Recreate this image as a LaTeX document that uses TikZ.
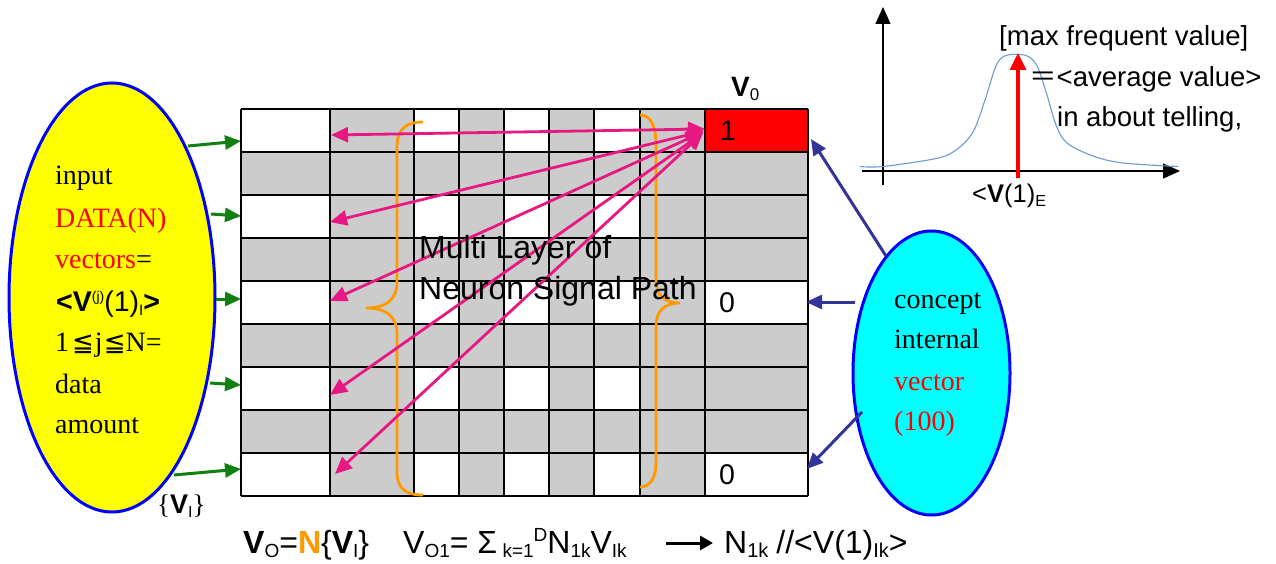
\documentclass[tikz,border=0pt]{standalone}
\usepackage{fontspec}
\setmainfont{Liberation Serif}
\newfontfamily\arial{Liberation Sans}
\newfontfamily\dejavu{DejaVu Sans}
\newfontfamily\cjk{Noto Sans CJK JP}
\usetikzlibrary{shapes.geometric,arrows.meta}
\definecolor{ggreen}{RGB}{16,128,16}
\definecolor{ppink}{RGB}{232,24,130}
\definecolor{navyb}{RGB}{51,51,153}
\definecolor{orng}{RGB}{255,153,0}
\definecolor{cgray}{RGB}{204,204,204}
\definecolor{cblue}{RGB}{108,155,210}
\definecolor{yfill}{RGB}{255,255,0}
\definecolor{cfill}{RGB}{0,255,255}
\definecolor{rfill}{RGB}{255,0,0}
\definecolor{bline}{RGB}{0,0,255}
\newcommand\setfs[1]{\fontsize{#1}{#1}\selectfont}
\newcommand\mylo[2]{\raisebox{-4pt}{\setfs{#1}#2}}
\newcommand\myhi[2]{\raisebox{12pt}{\setfs{#1}#2}}
\tikzset{
  garrow/.style={draw=ggreen, line width=3pt, -{Triangle[length=16pt,width=14pt]}},
  parrow/.style={draw=ppink, line width=2.8pt, {Triangle[length=17pt,width=15pt]}-{Triangle[length=17pt,width=15pt]}},
  narrow/.style={draw=navyb, line width=3pt, -{Triangle[length=16pt,width=14pt]}},
  axis/.style={draw=black, line width=1.4pt, -{Triangle[length=17pt,width=15pt]}},
  brace/.style={draw=orng, line width=2.8pt},
  txt/.style={inner sep=0pt, anchor=base west},
  serif/.style={txt, font=\setfs{28}},
  sans/.style={txt, font=\arial\setfs{28.5}},
  bubble/.style={ellipse, draw=bline, line width=3pt, inner sep=0pt},
}
\begin{document}
\begin{tikzpicture}[x=1pt,y=-1pt]
\fill[white] (0,0) rectangle (1276,564);
\useasboundingbox (0,0) rectangle (1276,564);

% grid
\fill[cgray] (241,109) rectangle (808,496);
\foreach \r in {0,2,4,6,8}
  \foreach \xa/\xb in {241/330,414/459,504/549,594/640}
    \fill[white] (\xa,{109+43*\r}) rectangle (\xb,{152+43*\r});
\fill[white] (705,281) rectangle (808,324);
\fill[white] (705,453) rectangle (808,496);
\fill[rfill] (705,109) rectangle (808,152);
\foreach \x in {241,330,414,459,504,549,594,640,705,808}
  \draw[line width=1.3pt] (\x,109) -- (\x,496);
\foreach \r in {0,...,9}
  \draw[line width=1.3pt] (241,{109+43*\r}) -- (808,{109+43*\r});

\node[font=\arial\setfs{28.5}, inner sep=0pt] (one) at (728,131) {1};
\node[font=\arial\setfs{28.5}, inner sep=0pt] (zeroa) at (727,303) {0};
\node[font=\arial\setfs{28.5}, inner sep=0pt] (zerob) at (727,475) {0};
\node[txt, font=\arial\setfs{28}] (vo) at (731,97) {\textbf{V}\mylo{17}{0}};

% braces
\draw[brace] (423,122) .. controls (405,122) and (397,130) .. (397,147) -- (397,282)
  .. controls (397,298) and (388,308) .. (366,308)
  .. controls (388,308) and (397,318) .. (397,334) -- (397,472)
  .. controls (397,488) and (405,495) .. (423,495);
\draw[brace] (640,115) .. controls (650,115) and (656,125) .. (656,145) -- (656,280)
  .. controls (656,295) and (664,303) .. (680,303)
  .. controls (664,303) and (656,311) .. (656,327) -- (656,463)
  .. controls (656,478) and (650,487) .. (640,487);

% pink arrows
\coordinate (c1) at (705,129);
\coordinate (c2) at (704,131);
\coordinate (c3) at (703,132);
\coordinate (c4) at (703,133);
\coordinate (c5) at (703,133);
\coordinate (l1) at (331,135);
\coordinate (l2) at (330,222);
\coordinate (l3) at (330,301);
\coordinate (l4) at (330,395);
\coordinate (l5) at (335,474);
\foreach \i in {1,...,5} \draw[parrow] (c\i) -- (l\i);

\node[txt, font=\arial\setfs{32}] (ml1) at (419,258) {Multi Layer of};
\node[txt, font=\arial\setfs{32}] (ml2) at (419,299) {Neuron Signal Path};

% left ellipse
\node[bubble, fill=yfill, minimum width=206pt, minimum height=429pt] (inp) at (112,297.5) {};
\node[serif] (a1) at (55,185) {input};
\node[serif, text=rfill] (a2) at (55,227) {DATA(N)};
\node[serif] (a3) at (55,268) {\textcolor{rfill}{vectors}=};
\node[sans] (a4) at (56,311) {\textbf{<V}\raisebox{10pt}{\setfs{14}(j)}(1)\mylo{15}{I}\textbf{>}};
\node[serif] (a5) at (55,351) {1\hspace{3pt}{\dejavu\setfs{26}≦}\hspace{1pt}j\hspace{1pt}{\dejavu\setfs{26}≦}N=};
\node[serif] (a6) at (55,393) {data};
\node[serif] (a7) at (55,433) {amount};
\node[txt, font=\setfs{27}] (vi) at (157,513) {\{{\arial\textbf{V}\mylo{16}{I}}\}};

% green arrows
\coordinate (gs1) at (188,146); \coordinate (ge1) at (241,141);
\coordinate (gs2) at (211,214); \coordinate (ge2) at (241,216);
\coordinate (gs3) at (216,299); \coordinate (ge3) at (241,299);
\coordinate (gs4) at (210,383); \coordinate (ge4) at (241,385);
\coordinate (gs5) at (174,475); \coordinate (ge5) at (241,469);
\foreach \i in {1,...,5} \draw[garrow] (gs\i) -- (ge\i);

% right ellipse
\node[bubble, fill=cfill, minimum width=157pt, minimum height=284pt] (con) at (931.5,373) {};
\node[serif] (b1) at (894,308) {concept};
\node[serif] (b2) at (894,348) {internal};
\node[serif, text=rfill] (b3) at (894,390) {vector};
\node[serif, text=rfill] (b4) at (894,430) {(100)};

\coordinate (ns1) at (886,256); \coordinate (ne1) at (811,139);
\coordinate (ns2) at (855,302); \coordinate (ne2) at (806,302);
\coordinate (ns3) at (862,412); \coordinate (ne3) at (807,469);
\foreach \i in {1,2,3} \draw[narrow] (ns\i) -- (ne\i);

% chart
\coordinate (yb) at (883,185); \coordinate (yt) at (883,7);
\coordinate (xl) at (862,171); \coordinate (xr) at (1180,171);
\draw[axis] (yb) -- (yt);
\draw[axis] (xl) -- (xr);
\draw[cblue, line width=1.1pt] plot[smooth, tension=0.55] coordinates {
 (860,166.5) (883,166.5) (936,158.5) (956,150) (973,132) (985,100) (996,66) (1006,55.5) (1026,55.5)
 (1037,66) (1047,95) (1056,125) (1067,143) (1093,156) (1123,163) (1178,166.5)};
\coordinate (rb) at (1018,178); \coordinate (rt) at (1018,53);
\draw[rfill, line width=3.5pt, -{Triangle[length=17pt,width=16pt]}] (rb) -- (rt);
\node[txt, font=\arial\setfs{27.5}] (c1t) at (999,46) {[max frequent value]};
\node[txt, font=\arial\setfs{27.5}] (c2t) at (1029,87) {{\cjk ＝}<average value>};
\node[txt, font=\arial\setfs{27.5}] (c3t) at (1057,127) {in about telling,};
\node[txt, font=\arial\setfs{25.5}] (ve) at (972,203) {<\textbf{V}(1)\mylo{16}{E}};

% bottom formula
\node[txt, font=\arial\setfs{32}] (f1) at (243,553) {\textbf{V}\mylo{19}{O}=\textcolor{orng}{\textbf{N}}\{\textbf{V}\mylo{19}{I}\}};
\node[txt, font=\arial\setfs{32}] (f2) at (403,553) {V\mylo{19}{O1}= Σ\mylo{19}{ k=1}\myhi{19}{D}N\mylo{19}{1k}V\mylo{19}{Ik}};
\coordinate (fa) at (666,543); \coordinate (fb) at (713,543);
\draw[line width=3pt, -{Triangle[length=13pt,width=14pt]}] (fa) -- (fb);
\node[txt, font=\arial\setfs{32}] (f3) at (724,553) {N\mylo{20}{1k}\hspace{8pt}//<V(1)\mylo{20}{Ik}>};
\end{tikzpicture}
\end{document}
